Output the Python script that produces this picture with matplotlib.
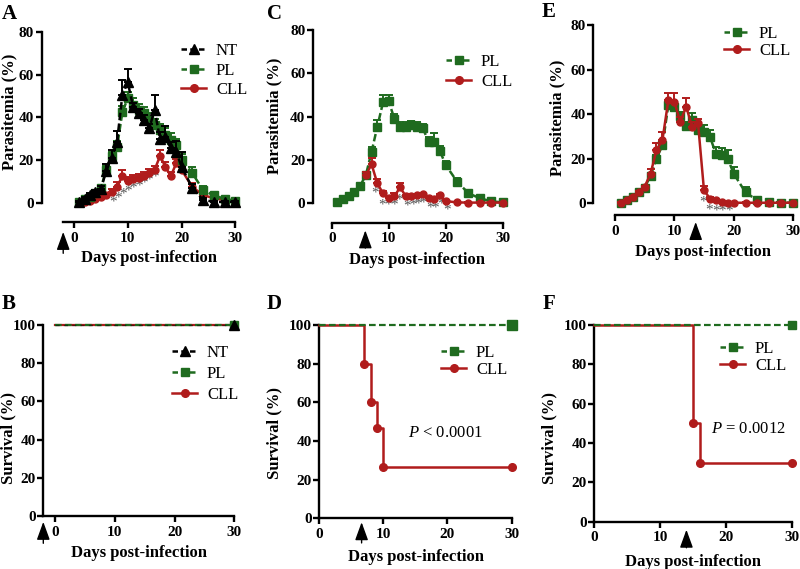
import numpy as np
import matplotlib
matplotlib.use('Agg')
import matplotlib.pyplot as plt
from matplotlib.lines import Line2D

plt.rcParams['font.family'] = ['Liberation Serif', 'DejaVu Serif']
plt.rcParams['mathtext.fontset'] = 'custom'
plt.rcParams['mathtext.it'] = 'Liberation Serif:italic'
plt.rcParams['mathtext.rm'] = 'Liberation Serif'

W, H = 800, 569
GREEN = '#1f6b1f'
RED = '#b01c1c'
BLACK = '#000000'
STAR = '#555555'

# ---------------- data ----------------
days = [1, 2, 3, 4, 5, 6, 7, 8, 9, 10, 11, 12, 13, 14, 15, 16, 17, 18, 19, 20, 22, 24, 26, 28, 30]

# Panel A
a_nt = [0.5, 2.0, 3.5, 5.0, 6.5, 15.0, 21.0, 28.5, 50.5, 56.5, 45.0, 42.0, 39.0, 35.0, 43.5, 30.0, 31.0, 25.5, 24.0, 17.0, 7.0, 1.5, 0.5, 0.5, 0.5]
a_nt_err = [0.5, 1, 1, 1, 1.5, 3, 4, 5, 7, 6, 2, 2, 2, 2, 7, 3, 5, 3, 5, 7, 2, 1, 0.5, 0.5, 0.5]
a_pl = [0.5, 2.0, 3.0, 4.5, 7.0, 15.5, 22.0, 26.0, 42.5, 49.0, 46.0, 43.5, 42.0, 39.0, 36.5, 34.0, 32.0, 29.5, 27.0, 20.0, 14.0, 6.0, 3.5, 2.0, 1.0]
a_pl_err = [0.5, 1, 1, 1, 1, 2, 2, 3, 3, 3, 3, 3, 3, 3, 3, 3, 3, 3, 3, 3, 3, 2, 1, 1, 1]
a_cll = [0.2, 0.5, 1.0, 2.0, 3.0, 3.7, 5.3, 7.6, 12.5, 10.3, 11.0, 11.5, 12.6, 14.0, 15.5, 22.0, 17.0, 12.5, 18.5, 15.5, 7.5, 3.7, 2.2, 1.4, 1.0]
a_cll_err = [0.3, 0.5, 0.5, 0.5, 0.5, 1, 1, 2, 3, 2, 2, 2, 2, 2, 2, 3, 2, 2, 2, 2, 2, 1, 1, 1, 0.5]
a_star_x = [7.3, 8.2, 9.2, 10.1, 11.0, 12.1, 13.1, 14.0, 15.0, 16.9]
a_star_y = [0.3, 2.2, 4.0, 5.5, 6.8, 8.1, 9.5, 10.6, 12.0, 15.0]

# Panel C
c_pl = [0.3, 1.7, 3.2, 5.2, 8.0, 13.0, 23.7, 35.3, 46.5, 47.0, 39.0, 35.3, 35.3, 36.0, 35.3, 34.5, 28.4, 28.4, 24.0, 17.6, 9.9, 4.5, 2.2, 0.8, 0.3]
c_pl_err = [0.3, 0.5, 0.5, 0.5, 1, 1, 2, 3, 3.5, 3, 2, 2, 2, 2, 2, 2, 2, 4, 2.5, 2, 1.5, 1.5, 0.5, 0.5, 0.3]
c_cll_days = [6, 7, 8, 9, 10, 11, 12, 13, 14, 15, 16, 17, 18, 19, 20, 22, 24, 26, 28, 30]
c_cll = [13.0, 17.9, 9.1, 4.5, 2.5, 3.2, 7.2, 3.2, 3.2, 3.7, 4.2, 2.5, 2.0, 3.7, 0.9, 0.3, 0.2, 0.2, 0.2, 0.2]
c_cll_err = [1.5, 3, 2, 1, 0.5, 1.5, 2, 0.5, 0.5, 0.5, 0.5, 0.5, 0.5, 0.5, 0.5, 0.3, 0.2, 0.2, 0.2, 0.2]
c_star_x = [7.6, 8.9, 9.9, 10.9, 11.9, 13.3, 14.3, 15.2, 16.1, 17.2, 18.1, 19.2, 20.2]
c_star_y = [4.8, -0.9, -0.9, -0.9, 1.4, -1.2, -0.9, -0.5, -0.2, -2.5, -2.5, -0.5, -3.2]

# Panel E
e_pl = [0.3, 1.3, 2.8, 4.8, 7.0, 12.3, 20.0, 26.0, 44.0, 43.0, 39.0, 34.5, 37.3, 33.0, 32.0, 29.8, 22.3, 21.6, 20.0, 13.3, 4.8, 1.3, 0.6, 0.3, 0.2]
e_pl_err = [0.3, 0.5, 0.5, 0.5, 0.5, 1, 1.5, 2, 2, 2, 2, 2, 3, 3, 3, 3, 3, 3, 4, 3, 2.5, 1, 0.5, 0.3, 0.2]
e_cll = [0.3, 1.3, 2.8, 4.8, 7.3, 13.3, 23.8, 28.3, 46.3, 45.5, 36.6, 43.3, 34.3, 35.8, 5.8, 2.1, 1.3, 0.6, 0.3, 0.2, 0.2, 0.2, 0.2, 0.2, 0.2]
e_cll_err = [0.3, 0.3, 0.3, 0.5, 0.5, 2, 3, 3.5, 3, 4, 2, 4, 2, 2, 2, 0.5, 0.3, 0.3, 0.2, 0.2, 0.2, 0.2, 0.2, 0.2, 0.2]
e_star_x = [14.9, 15.9, 17.0, 18.1, 19.2]
e_star_y = [0.7, -3.3, -3.6, -3.6, -3.6]

# Survival
b_t = [0, 30]
b_nt = [100, 100]
b_pl = [100, 100]
b_cll = [100, 100]
d_pl_t = [0, 30]
d_pl_s = [100, 100]
d_cll_t = [0, 7, 8, 9, 10, 30]
d_cll_s = [100, 80, 60, 46.7, 26.7, 26.7]
f_pl_t = [0, 30]
f_pl_s = [100, 100]
f_cll_t = [0, 15, 16, 30]
f_cll_s = [100, 50, 30, 30]

arrow_day = {'A': -2, 'B': -1.95, 'C': 5.9, 'D': 6.6, 'E': 13.6, 'F': 14.0}

# ---------------- figure ----------------
fig = plt.figure(figsize=(W / 100, H / 100), dpi=100)


def add_ax(left, top, right, bottom):
    return fig.add_axes([left / W, 1 - bottom / H, (right - left) / W, (bottom - top) / H])


def fpos(x, y):
    return x / W, 1 - y / H


def style(ax, xlim, ylim, ybounds, xbounds, yticks):
    ax.set_xlim(*xlim)
    ax.set_ylim(*ylim)
    for s in ('top', 'right'):
        ax.spines[s].set_visible(False)
    for s in ('left', 'bottom'):
        ax.spines[s].set_linewidth(1.7)
    ax.spines['left'].set_bounds(*ybounds)
    ax.spines['bottom'].set_bounds(*xbounds)
    ax.set_xticks([0, 10, 20, 30])
    ax.set_yticks(yticks)
    ax.tick_params(axis='both', direction='out', length=4, width=1.7, labelsize=11, pad=1.5)
    ax.tick_params(axis='x', pad=3)
    for lab in ax.get_xticklabels() + ax.get_yticklabels():
        lab.set_fontweight('bold')


def series(ax, x, y, err, color, marker, ls, ms, z):
    ax.errorbar(x, y, yerr=[np.zeros(len(err)), err], color=color, marker=marker, ms=ms,
                ls=ls, lw=1.8, elinewidth=1.4, capsize=3.2, capthick=1.4, clip_on=False,
                zorder=z, dashes=(3, 1.3) if ls == '--' else (None, None))


def handle(color, marker, ls, ms):
    if ls == '--':
        return Line2D([], [], color=color, marker=marker, ms=ms, lw=1.8, ls='--', dashes=(2.2, 1.3))
    return Line2D([], [], color=color, marker=marker, ms=ms, lw=1.8, ls='-')


def legend(ax, handles, labels, x, y, spacing):
    ax.legend(handles, labels, loc='upper left', bbox_to_anchor=fpos(x, y),
              bbox_transform=fig.transFigure, frameon=False, fontsize=12,
              handlelength=1.5, handletextpad=0.6, labelspacing=spacing,
              borderpad=0, borderaxespad=0)


def arrow(ax, day, y0, y1):
    tr = ax.get_xaxis_transform()
    ax.annotate('', xy=(day, y0), xytext=(day, y1), xycoords=tr, textcoords=tr,
                arrowprops=dict(arrowstyle='-|>,head_length=1.1,head_width=0.4', color='black',
                                lw=1.0, shrinkA=0, shrinkB=0), annotation_clip=False)


def stars(ax, xs, ys):
    for x, y in zip(xs, ys):
        ax.text(x, y, '*', color=STAR, fontsize=11, ha='center', va='center', clip_on=False)


def label(x, y, text, rot=0, size=12):
    fig.text(*fpos(x, y), text, ha='center', va='center', rotation=rot,
             fontsize=size, fontweight='bold')


h_nt = handle(BLACK, '^', '--', 6.5)
h_pl = handle(GREEN, 's', '--', 5.5)
h_cll = handle(RED, 'o', '-', 5.5)

# ---- A ----
axA = add_ax(41.7, 27.7, 240.7, 222.2)
style(axA, (-6, 31), (-9, 82), (0, 80), (-2, 30), [0, 20, 40, 60, 80])
series(axA, days, a_cll, a_cll_err, RED, 'o', '-', 5, 3)
series(axA, days, a_pl, a_pl_err, GREEN, 's', '--', 5.5, 4)
series(axA, days, a_nt, a_nt_err, BLACK, '^', '--', 6.5, 5)
stars(axA, a_star_x, a_star_y)
legend(axA, [h_nt, h_pl, h_cll], ['NT', 'PL', 'CLL'], 181, 43, 0.22)
arrow(axA, arrow_day['A'], -0.05, -0.16)

# ---- C ----
axC = add_ax(313, 25.7, 508.4, 222.5)
style(axC, (-3.28, 31), (-9, 82), (0, 80), (0, 30), [0, 20, 40, 60, 80])
series(axC, days, c_pl, c_pl_err, GREEN, 's', '--', 5.5, 4)
series(axC, c_cll_days, c_cll, c_cll_err, RED, 'o', '-', 5, 5)
stars(axC, c_star_x, c_star_y)
legend(axC, [h_pl, h_cll], ['PL', 'CLL'], 446, 54, 0.25)
arrow(axC, arrow_day['C'], -0.04, -0.13)

# ---- E ----
axE = add_ax(593.3, 20.5, 799, 215)
style(axE, (-3.64, 31), (-5.3, 82), (0, 80), (0, 30), [0, 20, 40, 60, 80])
series(axE, days, e_pl, e_pl_err, GREEN, 's', '--', 5.5, 4)
series(axE, days, e_cll, e_cll_err, RED, 'o', '-', 5, 5)
stars(axE, e_star_x, e_star_y)
legend(axE, [h_pl, h_cll], ['PL', 'CLL'], 724, 26, 0.05)
arrow(axE, arrow_day['E'], -0.036, -0.12)

# ---- B ----
axB = add_ax(43.3, 321, 240.3, 516)
style(axB, (-1.95, 31), (0, 102), (0, 100), (-1.95, 30), [0, 20, 40, 60, 80, 100])
axB.plot(b_t, b_cll, color=RED, lw=1.6, clip_on=False, zorder=3)
axB.plot(b_t, b_pl, color=GREEN, lw=1.6, ls='--', dashes=(3, 1.5), clip_on=False, zorder=4)
axB.plot(b_t, b_nt, color=BLACK, lw=1.0, ls='--', dashes=(3, 3), clip_on=False, zorder=5, alpha=0.5)
axB.plot(b_t[-1:], b_cll[-1:], 'o', color=RED, ms=5.5, clip_on=False, zorder=6)
axB.plot(b_t[-1:], b_pl[-1:], 's', color=GREEN, ms=5.5, clip_on=False, zorder=7)
axB.plot(b_t[-1:], b_nt[-1:], '^', color=BLACK, ms=6.5, clip_on=False, zorder=8)
legend(axB, [h_nt, h_pl, h_cll], ['NT', 'PL', 'CLL'], 172, 345, 0.3)
arrow(axB, arrow_day['B'], -0.03, -0.14)

# ---- D ----
axD = add_ax(319.3, 321.1, 518, 518.3)
style(axD, (0, 31), (0, 102), (0, 100), (0, 30), [0, 20, 40, 60, 80, 100])
axD.step(d_cll_t, d_cll_s, where='post', color=RED, lw=1.8, clip_on=False, zorder=3)
axD.plot(d_cll_t[1:], d_cll_s[1:], 'o', color=RED, ms=5.5, clip_on=False, zorder=5)
axD.plot(d_pl_t, d_pl_s, color=GREEN, lw=1.6, ls='--', dashes=(3, 1.5), clip_on=False, zorder=4)
axD.plot(d_pl_t[-1:], d_pl_s[-1:], 's', color=GREEN, ms=6.5, clip_on=False, zorder=6)
legend(axD, [h_pl, h_cll], ['PL', 'CLL'], 441, 345, 0.05)
axD.text(13.8, 44, r'$P$ < 0.0001', fontsize=12, ha='left', va='center')
arrow(axD, arrow_day['D'], -0.02, -0.125)

# ---- F ----
axF = add_ax(594.3, 321, 798.3, 521.7)
style(axF, (0, 31), (0, 102), (0, 100), (0, 30), [0, 20, 40, 60, 80, 100])
axF.step(f_cll_t, f_cll_s, where='post', color=RED, lw=1.8, clip_on=False, zorder=3)
axF.plot(f_cll_t[1:], f_cll_s[1:], 'o', color=RED, ms=5.5, clip_on=False, zorder=5)
axF.plot(f_pl_t, f_pl_s, color=GREEN, lw=1.6, ls='--', dashes=(3, 1.5), clip_on=False, zorder=4)
axF.plot(f_pl_t[-1:], f_pl_s[-1:], 's', color=GREEN, ms=5.5, clip_on=False, zorder=6)
legend(axF, [h_pl, h_cll], ['PL', 'CLL'], 720, 341, 0.05)
axF.text(17.7, 47, r'$P$ = 0.0012', fontsize=12, ha='left', va='center')
arrow(axF, arrow_day['F'], -0.04, -0.13)

# ---- axis labels ----
label(9, 112, 'Parasitemia (%)', rot=90)
label(274, 116, 'Parasitemia (%)', rot=90)
label(557.5, 117.5, 'Parasitemia (%)', rot=90)
label(8, 438, 'Survival (%)', rot=90)
label(274, 433, 'Survival (%)', rot=90)
label(549, 438.5, 'Survival (%)', rot=90)
label(149, 258, 'Days post-infection')
label(416.7, 260, 'Days post-infection')
label(703, 252, 'Days post-infection')
label(139, 553, 'Days post-infection')
label(415.7, 556.7, 'Days post-infection')
label(693, 561.7, 'Days post-infection')

# ---- panel letters ----
for letter, x, y in [('A', 2, 4), ('C', 267, 4), ('E', 542, 2), ('B', 2, 294), ('D', 267, 294), ('F', 543, 294)]:
    fig.text(*fpos(x, y), letter, ha='left', va='top', fontsize=15, fontweight='bold')

fig.savefig('out.png', dpi=100)
